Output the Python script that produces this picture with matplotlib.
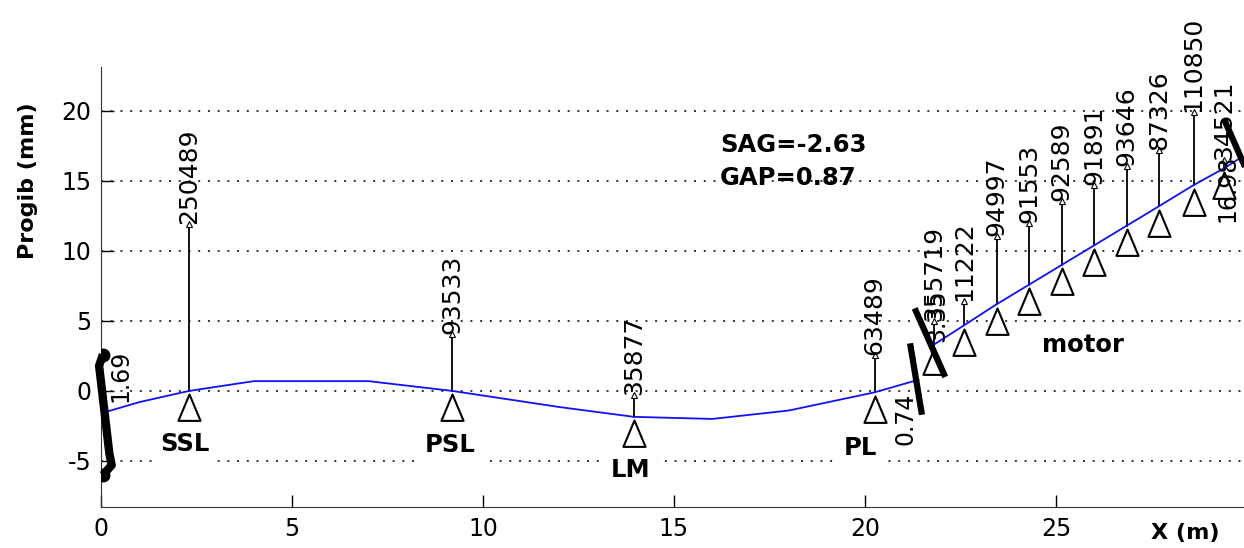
import matplotlib

matplotlib.use("Agg")
import matplotlib.pyplot as plt
from matplotlib.path import Path

plt.rcParams["font.family"] = ["DejaVu Sans"]
plt.rcParams["axes.unicode_minus"] = False

# --- deflection line (two pieces, split at the coupling) ---------------------
shaft_x = [0.0, 1.0, 2.3, 4.0, 7.0, 9.2, 12.0, 13.95, 16.0, 18.0, 20.25, 21.4]
shaft_y = [-1.6, -0.8, 0.0, 0.7, 0.7, 0.0, -1.15, -1.85, -2.0, -1.4, -0.1, 0.8]
motor_x = [21.8, 22.6, 23.45, 24.3, 25.15, 26.0, 26.85, 27.7, 28.6, 29.4, 29.8]
motor_y = [3.3, 4.7, 6.2, 7.6, 9.0, 10.4, 11.8, 13.2, 14.7, 15.9, 16.6]

# --- supports: position, deflection, arrow tip, reaction label ---------------
sup_x = [2.3, 9.2, 13.95, 20.25, 21.8, 22.6, 23.45, 24.3, 25.15, 26.0, 26.85, 27.7, 28.6, 29.4]
sup_y = [0.0, 0.0, -1.85, -0.1, 3.3, 4.7, 6.2, 7.6, 9.0, 10.4, 11.8, 13.2, 14.7, 15.9]
sup_tip = [11.9, 4.1, -0.3, 2.6, 5.0, 6.4, 11.1, 12.0, 13.6, 14.7, 16.1, 17.2, 19.9, 16.5]
sup_force = ["250489", "93533", "35877", "63489", "355719", "11222", "94997",
             "91553", "92589", "91891", "93646", "87326", "110850", "34521"]

# --- bearing names -----------------------------------------------------------
name_txt = ["SSL", "PSL", "LM", "PL", "motor"]
name_x = [2.2, 9.14, 13.85, 19.87, 25.7]
name_y = [-3.8, -3.85, -5.65, -4.1, 3.3]

# --- couplings (thick bars) and their deflection labels ----------------------
coup_x = [[0.05, -0.05, 0.22, 0.28, 0.05], [21.18, 21.49], [21.3, 22.1], [29.4, 29.95]]
coup_y = [[2.6, 1.8, -4.5, -5.3, -6.0], [3.4, -1.7], [5.9, 1.0], [19.4, 16.0]]
coup_lbl = ["1.69", "0.74", "3.35", "16.98"]
coup_lx = [0.5, 21.05, 21.9, 29.5]
coup_ly = [-0.8, -3.85, 3.5, 12.1]

sag, gap = -2.63, 0.87

fig = plt.figure(figsize=(12.44, 5.48), dpi=100)
ax = fig.add_axes([0.0812, 0.0748, 0.9212, 0.803])

ax.plot(shaft_x, shaft_y, color="#1010ff", lw=1.3, zorder=3)
ax.plot(motor_x, motor_y, color="#1010ff", lw=1.3, zorder=3)

# triangle hanging from its apex
tri = Path([(0, 0), (-0.42, -1), (0.42, -1), (0, 0)],
           [Path.MOVETO, Path.LINETO, Path.LINETO, Path.CLOSEPOLY])

for x, y, tip, f in zip(sup_x, sup_y, sup_tip, sup_force):
    ax.plot([x, x], [y, tip], color="black", lw=1.3, zorder=2)
    ax.plot(x, tip, marker="^", ms=4, mfc="white", mec="black", mew=0.8, zorder=4)
    ax.plot(x, y - 0.25, marker=tri, ms=38, mfc="white", mec="black", mew=1.5,
            ls="none", zorder=4, clip_on=False)
    ax.text(x, tip, f, rotation=90, ha="center", va="bottom", fontsize=18,
            zorder=5, clip_on=False)

for t, x, y in zip(name_txt, name_x, name_y):
    ax.text(x, y, t, ha="center", va="center", fontsize=17.5, fontweight="bold",
            bbox=dict(fc="white", ec="none", pad=5), zorder=3)

for i, (cx, cy) in enumerate(zip(coup_x, coup_y)):
    ax.plot(cx, cy, color="black", lw=6 if i == 0 else 4.5,
            solid_capstyle="butt", zorder=6, clip_on=False)
    if i == 0:
        ax.plot([cx[0], cx[-1]], [cy[0], cy[-1]], "o", color="black", ms=9, zorder=6)
for t, x, y in zip(coup_lbl, coup_lx, coup_ly):
    ax.text(x, y, t, rotation=90, ha="center", va="bottom", fontsize=17,
            zorder=5, clip_on=False)

ax.text(16.2, 17.6, f"SAG={sag:.2f}", ha="left", va="center", fontsize=17.5,
        fontweight="bold", bbox=dict(fc="white", ec="none", pad=2))
ax.text(16.2, 15.2, f"GAP={gap:.2f}", ha="left", va="center", fontsize=17.5,
        fontweight="bold")

ax.set_xlim(0, 30)
ax.set_ylim(-8.29, 23.14)
ax.set_xticks([0, 5, 10, 15, 20, 25])
ax.set_yticks([-5, 0, 5, 10, 15, 20])
ax.yaxis.grid(True, linestyle=(0, (1, 4)), color="#333333", lw=1.4)
ax.set_axisbelow(True)
ax.tick_params(direction="in", length=9, width=1, labelsize=17, pad=7)
for s in ("top", "right"):
    ax.spines[s].set_visible(False)
for s in ("left", "bottom"):
    ax.spines[s].set_color("#333333")

ax.set_ylabel("Progib (mm)", fontsize=16, fontweight="bold")
ax.yaxis.set_label_coords(-0.055, 0.741)
ax.set_xlabel("X (m)", fontsize=16, fontweight="bold")
ax.xaxis.set_label_coords(0.946, -0.036)

fig.savefig("out.png", dpi=100)
